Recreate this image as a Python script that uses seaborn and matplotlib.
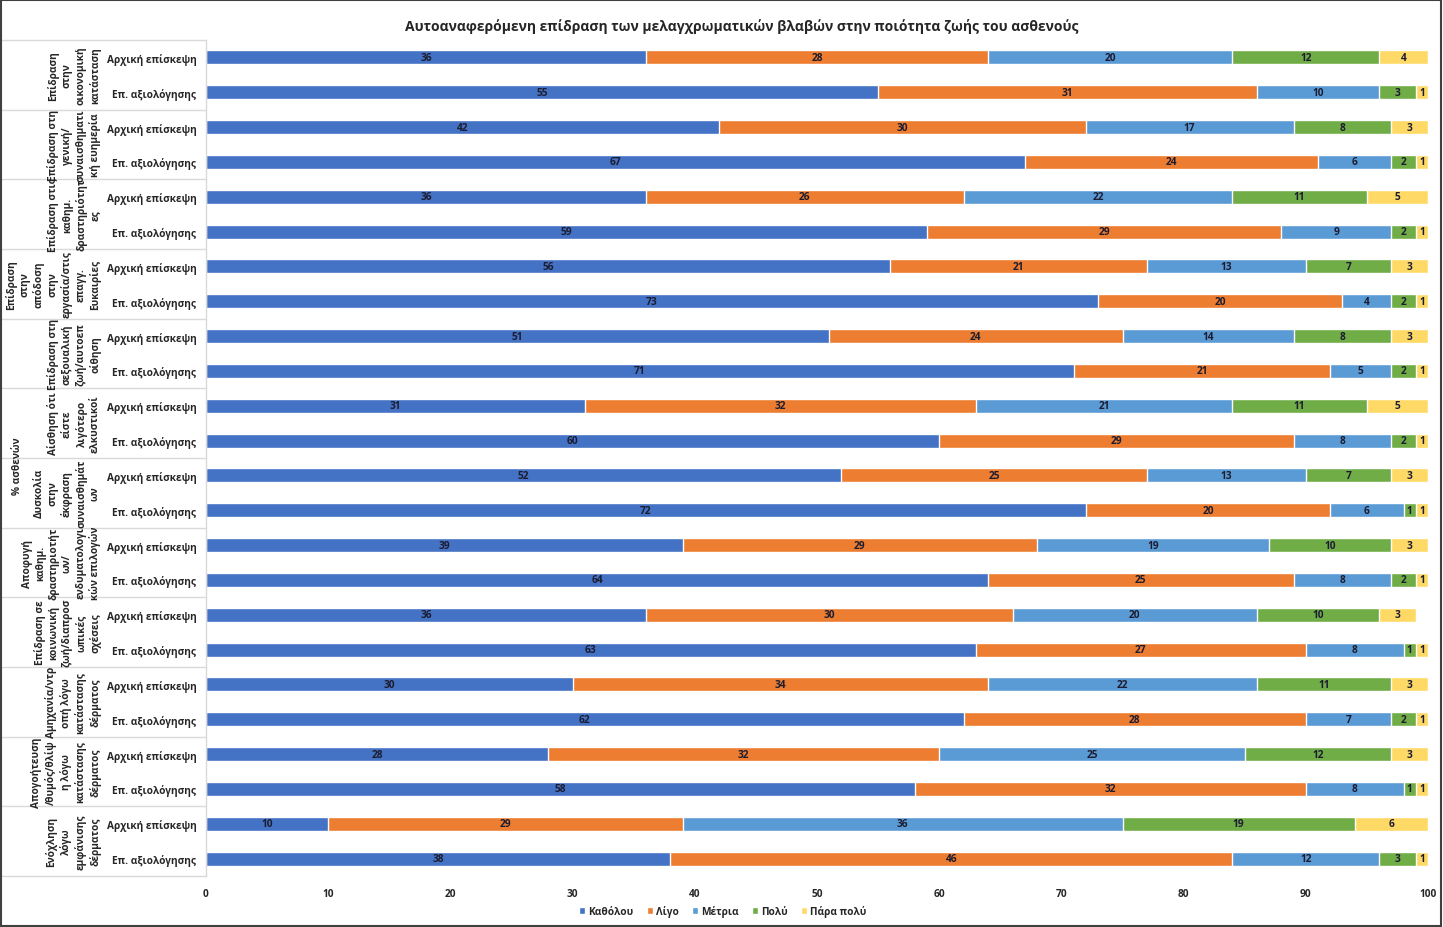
import pandas as pd
import numpy as np
import matplotlib
matplotlib.use("Agg")
import matplotlib.pyplot as plt
import seaborn as sns
from matplotlib.patches import Patch, Rectangle
from matplotlib.lines import Line2D
from matplotlib.transforms import blended_transform_factory

title = "Αυτοαναφερόμενη επίδραση των μελαγχρωματικών βλαβών στην ποιότητα ζωής του ασθενούς"

groups = [
    "Επίδραση\nστην\nοικονομική\nκατάσταση",
    "Επίδραση στη\nγενική/\nσυναισθηματι\nκή ευημερία",
    "Επίδραση στις\nκαθημ.\nδραστηριότητ\nες",
    "Επίδραση\nστην\nαπόδοση\nστην\nεργασία/στις\nεπαγγ.\nΕυκαιρίες",
    "Επίδραση στη\nσεξουαλική\nζωή/αυτοεπ\nοίθηση",
    "Αίσθηση ότι\nείστε\nλιγότερο\nελκυστικοί",
    "Δυσκολία\nστην\nέκφραση\nσυναισθημάτ\nων",
    "Αποφυγή\nκαθημ.\nδραστηριοτήτ\nων/\nενδυματολογι\nκών επιλογών",
    "Επίδραση σε\nκοινωνική\nζωή/διαπροσ\nωπικές\nσχέσεις",
    "Αμηχανία/ντρ\nοπή λόγω\nκατάστασης\nδέρματος",
    "Απογοήτευση\n/θυμός/θλίψ\nη λόγω\nκατάστασης\nδέρματος",
    "Ενόχληση\nλόγω\nεμφάνισης\nδέρματος",
]
visits = ["Αρχική επίσκεψη", "Επ. αξιολόγησης"]

series = ["Καθόλου", "Λίγο", "Μέτρια", "Πολύ", "Πάρα πολύ"]
colors = ["#4472C4", "#ED7D31", "#5B9BD5", "#70AD47", "#FFD966"]

# two rows per group: initial visit, re-evaluation
katholou = [36, 55, 42, 67, 36, 59, 56, 73, 51, 71, 31, 60, 52, 72, 39, 64, 36, 63, 30, 62, 28, 58, 10, 38]
ligo = [28, 31, 30, 24, 26, 29, 21, 20, 24, 21, 32, 29, 25, 20, 29, 25, 30, 27, 34, 28, 32, 32, 29, 46]
metria = [20, 10, 17, 6, 22, 9, 13, 4, 14, 5, 21, 8, 13, 6, 19, 8, 20, 8, 22, 7, 25, 8, 36, 12]
poly = [12, 3, 8, 2, 11, 2, 7, 2, 8, 2, 11, 2, 7, 1, 10, 2, 10, 1, 11, 2, 12, 1, 19, 3]
para_poly = [4, 1, 3, 1, 5, 1, 3, 1, 3, 1, 5, 1, 3, 1, 3, 1, 3, 1, 3, 1, 3, 1, 6, 1]

values = [katholou, ligo, metria, poly, para_poly]
row_ids = ["r%d" % i for i in range(len(katholou))]
row_labels = [visits[i % 2] for i in range(len(katholou))]

df = pd.DataFrame({"row": row_ids})
for s, v in zip(series, values):
    df[s] = v
cum = df[series].cumsum(axis=1)

sns.set_style("white")
font = ["Open Sans", "DejaVu Sans"]
plt.rcParams["font.family"] = font
plt.rcParams["font.weight"] = "bold"
txt_col = "#262626"
fs = 7.3

fig = plt.figure(figsize=(14.43, 9.28), dpi=100)
ax = fig.add_axes([206 / 1443, 1 - 877 / 928, (1428 - 206) / 1443, (877 - 41) / 928])

# stacked bars: draw cumulative totals from the outermost segment inwards
for s, c in reversed(list(zip(series, colors))):
    sns.barplot(x=cum[s], y=df["row"], orient="h", color=c, saturation=1,
                width=0.4, errorbar=None, order=row_ids, ax=ax)

for i in range(len(row_ids)):
    for s in series:
        v = df.loc[i, s]
        ax.text(cum.loc[i, s] - v / 2, i, str(v), ha="center", va="center",
                fontsize=fs, fontweight="bold", color="#1c1c30")

ax.set_xlim(0, 100)
ax.set_ylim(len(row_ids) - 0.5, -0.5)
ax.set_xticks(range(0, 101, 10))
ax.set_yticks(range(len(row_ids)))
ax.set_yticklabels(row_labels, fontsize=fs, fontweight="bold", color=txt_col)
ax.tick_params(axis="x", length=0, pad=9, labelsize=fs, labelcolor=txt_col)
ax.tick_params(axis="y", length=0, pad=7)
ax.set_xlabel("")
ax.set_ylabel("")
for sp in ["top", "right", "bottom"]:
    ax.spines[sp].set_visible(False)
ax.spines["left"].set_color("#d9d9d9")
ax.spines["left"].set_linewidth(1)

# group labels and separators on the left
tr = blended_transform_factory(fig.transFigure, ax.transData)
for g, name in enumerate(groups):
    ax.text(101 / 1443, 2 * g + 0.5, name, transform=tr, rotation=90,
            ha="right", va="center", multialignment="center",
            fontsize=fs, fontweight="bold", color=txt_col, linespacing=1.3)
for b in range(len(groups) + 1):
    y = 2 * b - 0.5
    ax.add_line(Line2D([0, 206 / 1443], [y, y], transform=tr, color="#d9d9d9",
                       lw=1, clip_on=False))

fig.text(18 / 1443, 1 - 466 / 928, "% ασθενών", rotation=90, ha="center",
         va="center", fontsize=fs, fontweight="bold", color=txt_col)

fig.text(742 / 1443, 1 - 26 / 928, title, ha="center", va="center",
         fontsize=10, fontweight="bold", color=txt_col)

handles = [Patch(facecolor=c, label=s) for s, c in zip(series, colors)]
fig.legend(handles=handles, loc="center", bbox_to_anchor=(723 / 1443, 1 - 912 / 928),
           ncol=5, frameon=False, fontsize=fs, handlelength=0.6, handleheight=0.6,
           handletextpad=0.3, columnspacing=1.3)

fig.add_artist(Rectangle((0.0005, 0.0008), 0.998, 0.998, transform=fig.transFigure,
                         fill=False, edgecolor="#404040", lw=1.5))

fig.savefig("out.png", dpi=100)
